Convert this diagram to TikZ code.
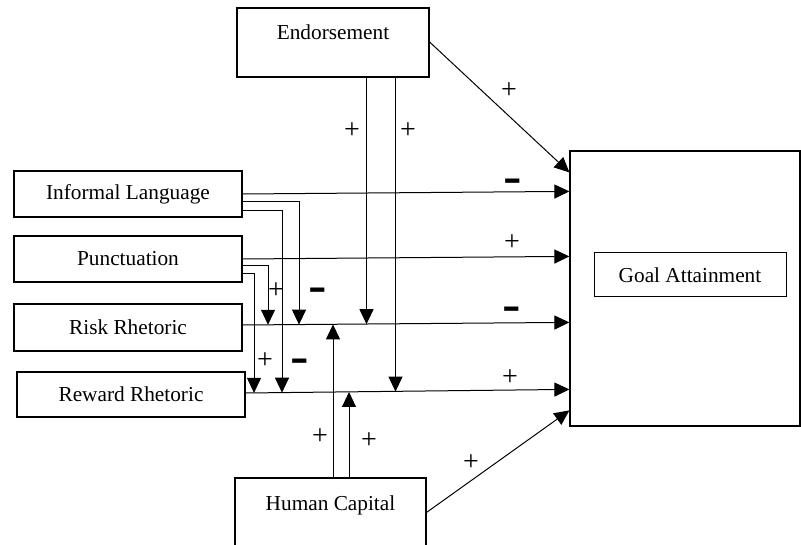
\documentclass[tikz,border=0pt]{standalone}
\usepackage{fontspec}
\setmainfont{Liberation Serif}
\newfontfamily\msf{Liberation Sans}
\usetikzlibrary{arrows.meta}
\tikzset{
  box/.style={draw=black, line width=1.2pt, inner sep=0pt, font=\fontsize{21.3}{25}\selectfont},
  conn/.style={line width=1pt, -{Triangle[length=15pt,width=14pt]}},
  plus/.style={inner sep=0pt, font=\fontsize{28}{28}\selectfont},
  minus/.style={inner sep=0pt, font=\msf\bfseries\fontsize{36}{36}\selectfont, yshift=-3.4pt}
}
\newcommand{\mns}{\scalebox{1.55}[1]{-}}
\begin{document}
\begin{tikzpicture}[x=1pt,y=-1pt]
\useasboundingbox (0,0) rectangle (801,545);
\clip (0,0) rectangle (801,545);
% boxes
\node[box, minimum width=192pt, text height=32pt, text depth=37pt] (endo) at (333,42.5) {Endorsement};
\node[box, minimum width=228pt, minimum height=46pt] (info) at (128,194) {Informal Language};
\node[box, minimum width=228pt, minimum height=46pt] (punc) at (128,259) {Punctuation};
\node[box, minimum width=228pt, minimum height=47pt] (risk) at (128,327.5) {Risk Rhetoric};
\node[box, minimum width=228pt, minimum height=45pt] (rew) at (131,394.5) {Reward Rhetoric};
\node[box, minimum width=191pt, text height=32pt, text depth=50pt] (hc) at (330.5,519) {Human Capital};
\node[box, minimum width=230pt, minimum height=275pt] (goal) at (685,288.5) {};
\node[box, line width=1pt, minimum width=192pt, minimum height=44pt] (goalin) at (690,275) {Goal Attainment};
% tip coordinates on the main lines
\coordinate (rk268) at (268,324.8);
\coordinate (rk299) at (299,324.65);
\coordinate (rk366) at (366.5,324.2);
\coordinate (rk333) at (333,324.4);
\coordinate (rw254) at (254,392.9);
\coordinate (rw282) at (282,392.7);
\coordinate (rw349) at (349,392.0);
\coordinate (rw396) at (395.5,391.6);
% main connectors
\draw[conn] ([yshift=0.5pt]endo.east) -- ([yshift=-22pt]goal.north west);
\draw[conn] (info.east) -- ([yshift=-41pt]goal.north west);
\draw[conn] (punc.east) -- ([yshift=-106pt]goal.north west);
\draw[conn] ([yshift=2.5pt]risk.east) -- ([yshift=-172pt]goal.north west);
\draw[conn] ([yshift=1.5pt]rew.east) -- ([yshift=-239pt]goal.north west);
\draw[conn] ([yshift=-35pt]hc.north east) -- ([yshift=-260pt]goal.north west);
% moderating connectors
\draw[conn] ([yshift=-8pt]info.east) -| (rk299);
\draw[conn] ([yshift=-17pt]info.east) -| (rw282);
\draw[conn] ([yshift=-7pt]punc.east) -| (rk268);
\draw[conn] ([yshift=-14.5pt]punc.east) -| (rw254);
\draw[conn] (endo.south -| rk366) -- (rk366);
\draw[conn] (endo.south -| rw396) -- (rw396);
\draw[conn] (hc.north -| rk333) -- (rk333);
\draw[conn] (hc.north -| rw349) -- (rw349);
% labels
\node[plus] (l1) at (509,91) {+};
\node[plus] (l2) at (352,131) {+};
\node[plus] (l3) at (408,131) {+};
\node[minus] (l4) at (513,181.5) {\mns};
\node[plus] (l5) at (512,243) {+};
\node[minus] (l6) at (512,309) {\mns};
\node[plus] (l7) at (510,378) {+};
\node[plus] (l8) at (276,291) {+};
\node[minus] (l9) at (318,290) {\mns};
\node[plus] (l10) at (265,361) {+};
\node[minus] (l11) at (300,361) {\mns};
\node[plus] (l12) at (320,437) {+};
\node[plus] (l13) at (369,441) {+};
\node[plus] (l14) at (471,463) {+};
\end{tikzpicture}
\end{document}
